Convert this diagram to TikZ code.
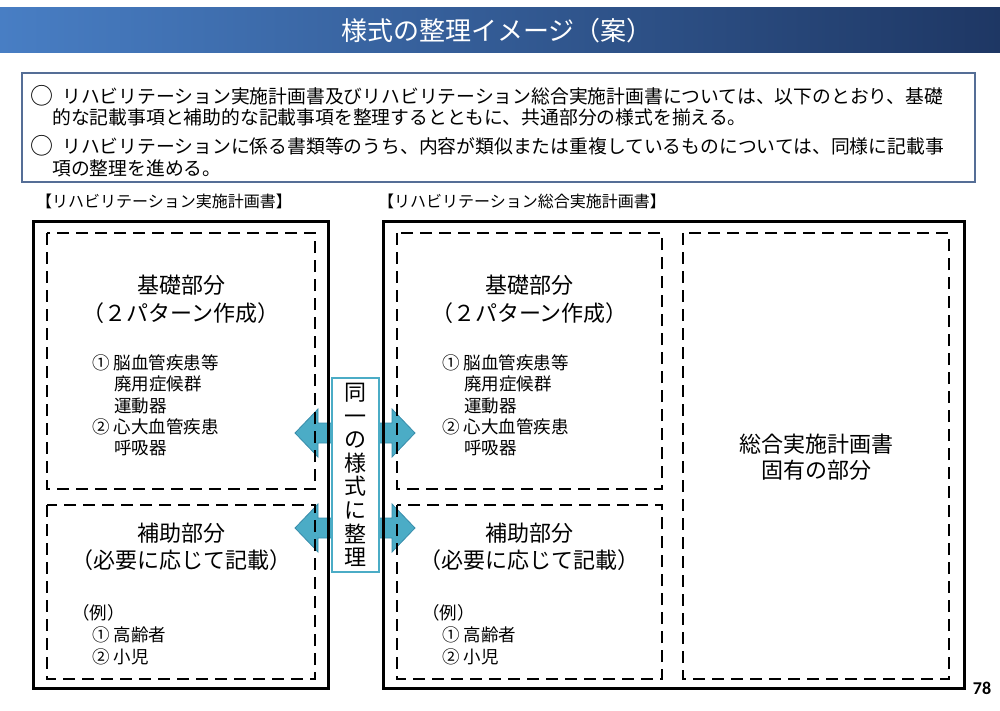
\documentclass[tikz,border=0pt]{standalone}
\usepackage{fontspec}
\setmainfont{Noto Sans CJK JP}
\newfontfamily\numfont{Carlito}
\usepackage{tikz}

\definecolor{barlight}{RGB}{72,126,196}
\definecolor{bardark}{RGB}{30,55,100}
\definecolor{leadline}{RGB}{85,110,150}
\definecolor{arrowfill}{RGB}{75,172,198}
\definecolor{arrowdraw}{RGB}{55,140,170}

\begin{document}
\begin{tikzpicture}[x=1pt,y=-1pt,
        outerbox/.style={draw, line width=3pt},
        partbox/.style={draw, line width=2.8pt, dash pattern=on 12pt off 7pt},
        parttitle/.style={inner sep=0pt, font=\fontsize{22}{26}\selectfont},
        listline/.style={anchor=west, inner sep=0pt, font=\fontsize{17.5}{20}\selectfont},
        leadtext/.style={anchor=west, inner sep=0pt, font=\fontsize{18.8}{22}\selectfont},
        leadmark/.style={inner sep=0pt, font=\fontsize{23}{26}\selectfont},
        caption/.style={anchor=west, inner sep=0pt, font=\fontsize{16}{18}\selectfont}]
        \useasboundingbox (0,0) rectangle (1000,711);

        % title bar
        \shade[left color=barlight, right color=bardark] (0,8) rectangle (1000,53);
        \node[text=white, font=\fontsize{26}{30}\selectfont] (title) at (497,31) {様式の整理イメージ（案）};

        % lead text
        \draw[leadline, line width=1.5pt] (22,73) rectangle (975,182);
        \node[leadmark] (mark1) at (41.5,96) {○};
        \node[leadtext] (lead1) at (62,96) {リハビリテーション実施計画書及びリハビリテーション総合実施計画書については、以下のとおり、基礎};
        \node[leadtext] (lead2) at (52,117) {的な記載事項と補助的な記載事項を整理するとともに、共通部分の様式を揃える。};
        \node[leadmark] (mark2) at (41.5,146) {○};
        \node[leadtext] (lead3) at (62,146) {リハビリテーションに係る書類等のうち、内容が類似または重複しているものについては、同様に記載事};
        \node[leadtext] (lead4) at (52,168) {項の整理を進める。};

        \node[caption] (capL) at (36,201) {【リハビリテーション実施計画書】};
        \node[caption] (capR) at (378,201) {【リハビリテーション総合実施計画書】};

        % arrows between the two forms
        \foreach \ay in {433,528}
            \path[fill=arrowfill, draw=arrowdraw, line width=0.8pt] (295,\ay) -- (318,\ay-24) -- (318,\ay-10) -- (392,\ay-10) -- (392,\ay-24) -- (415,\ay) -- (392,\ay+24) -- (392,\ay+10) -- (318,\ay+10) -- (318,\ay+24) -- cycle;

        % left form
        \draw[outerbox] (33,222) rectangle (328,688);
        \draw[partbox] (47,233) rectangle (315,489);
        \draw[partbox] (47,505) rectangle (315,679);

        \node[parttitle] (baseL) at (181,285) {基礎部分};
        \node[parttitle] (patL) at (181,313) {（２パターン作成）};
        \node[listline] (bl1) at (92,363) {① 脳血管疾患等};
        \node[listline] (bl2) at (114,384) {廃用症候群};
        \node[listline] (bl3) at (114,405.5) {運動器};
        \node[listline] (bl4) at (92,427) {② 心大血管疾患};
        \node[listline] (bl5) at (114,448) {呼吸器};

        \node[parttitle] (auxL) at (181,533) {補助部分};
        \node[parttitle] (needL) at (181,560) {（必要に応じて記載）};
        \node[listline] (exL) at (72,613) {（例）};
        \node[listline] (al1) at (92,635) {① 高齢者};
        \node[listline] (al2) at (92,657) {② 小児};

        % right form
        \draw[outerbox] (383,222) rectangle (964,688);
        \draw[partbox] (397,233) rectangle (662,489);
        \draw[partbox] (397,505) rectangle (662,679);
        \draw[partbox] (683,233) rectangle (949,679);

        \node[parttitle] (baseR) at (529.5,285) {基礎部分};
        \node[parttitle] (patR) at (529.5,313) {（２パターン作成）};
        \node[listline] (br1) at (442,363) {① 脳血管疾患等};
        \node[listline] (br2) at (464,384) {廃用症候群};
        \node[listline] (br3) at (464,405.5) {運動器};
        \node[listline] (br4) at (442,427) {② 心大血管疾患};
        \node[listline] (br5) at (464,448) {呼吸器};

        \node[parttitle] (auxR) at (529.5,533) {補助部分};
        \node[parttitle] (needR) at (529.5,560) {（必要に応じて記載）};
        \node[listline] (exR) at (422,613) {（例）};
        \node[listline] (ar1) at (442,635) {① 高齢者};
        \node[listline] (ar2) at (442,657) {② 小児};

        \node[parttitle, align=center] (own) at (816,457) {総合実施計画書\\固有の部分};

        % same form label
        \node[draw=arrowfill, line width=2pt, fill=white, minimum width=47, minimum height=194, inner sep=0pt,
            align=center, font=\fontsize{22}{23.6}\selectfont] (same) at (355.5,475) {同\\一\\の\\様\\式\\に\\整\\理};

        \node[font=\numfont\bfseries\fontsize{18}{20}\selectfont] (page) at (982,688) {78};
\end{tikzpicture}
\end{document}
